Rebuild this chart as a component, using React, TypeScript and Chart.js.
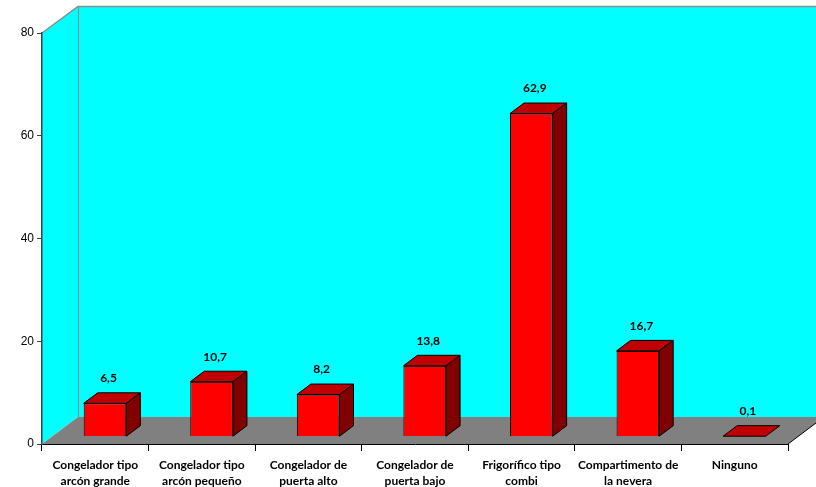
import { useEffect, useRef } from 'react';
import { Chart, registerables } from 'chart.js';

Chart.register(...registerables);

const categories: string[][] = [
  ['Congelador tipo', 'arcón grande'],
  ['Congelador tipo', 'arcón pequeño'],
  ['Congelador de', 'puerta alto'],
  ['Congelador de', 'puerta bajo'],
  ['Frigorífico tipo', 'combi'],
  ['Compartimento de', 'la nevera'],
  ['Ninguno'],
];
const percentages = [6.5, 10.7, 8.2, 13.8, 62.9, 16.7, 0.1];
const yTickValues = [0, 20, 40, 60, 80];

const WALL = '#00ffff';
const FLOOR = '#808080';
const FRONT = '#ff0000';
const TOP = '#c00000';
const SIDE = '#800000';

// Oblique projection of the box: full depth of walls/floor
const DEPTH_X = 36;
const DEPTH_Y = 27;
// Bars sit part-way into the floor and take part of its depth
const BAR_FRONT = 0.27;
const BAR_DEPTH = 0.39;

const fmt = (v: number) => v.toFixed(1).replace('.', ',');

const scene3d = {
  id: 'scene3d',
  beforeDraw(chart: any) {
    const { ctx, chartArea: a, scales } = chart;
    const yMax = yTickValues[yTickValues.length - 1];
    const yTop = Math.round(scales.y.getPixelForValue(yMax));
    const yBase = Math.round(scales.y.getPixelForValue(0));
    const x0 = Math.round(a.left);
    const x1 = Math.round(a.right);
    const W = chart.width;
    ctx.save();
    // back wall
    ctx.fillStyle = WALL;
    ctx.fillRect(x0 + DEPTH_X, yTop - DEPTH_Y, W - x0, yBase - yTop);
    // side wall
    ctx.beginPath();
    ctx.moveTo(x0, yTop);
    ctx.lineTo(x0 + DEPTH_X, yTop - DEPTH_Y);
    ctx.lineTo(x0 + DEPTH_X, yBase - DEPTH_Y);
    ctx.lineTo(x0, yBase);
    ctx.closePath();
    ctx.fill();
    // floor
    ctx.fillStyle = FLOOR;
    ctx.beginPath();
    ctx.moveTo(x0, yBase);
    ctx.lineTo(x1, yBase);
    ctx.lineTo(x1 + DEPTH_X, yBase - DEPTH_Y);
    ctx.lineTo(x0 + DEPTH_X, yBase - DEPTH_Y);
    ctx.closePath();
    ctx.fill();
    // wall edges
    ctx.lineWidth = 1.5;
    ctx.strokeStyle = '#8c8c8c';
    ctx.beginPath();
    ctx.moveTo(x0, yTop);
    ctx.lineTo(x0 + DEPTH_X, yTop - DEPTH_Y + 0.5);
    ctx.lineTo(W, yTop - DEPTH_Y + 0.5);
    ctx.stroke();
    ctx.lineWidth = 1;
    ctx.strokeStyle = '#a08080';
    ctx.beginPath();
    ctx.moveTo(x0 + DEPTH_X + 0.5, yTop - DEPTH_Y);
    ctx.lineTo(x0 + DEPTH_X + 0.5, yBase - DEPTH_Y);
    ctx.stroke();
    // floor right edge
    ctx.strokeStyle = '#000000';
    ctx.beginPath();
    ctx.moveTo(x1, yBase);
    ctx.lineTo(x1 + DEPTH_X, yBase - DEPTH_Y);
    ctx.stroke();
    ctx.restore();
  },
  beforeDatasetsDraw(chart: any) {
    chart.ctx.save();
    chart.ctx.translate(DEPTH_X * BAR_FRONT, -DEPTH_Y * BAR_FRONT);
  },
  afterDatasetsDraw(chart: any) {
    const { ctx } = chart;
    const dx = DEPTH_X * BAR_DEPTH;
    const dy = DEPTH_Y * BAR_DEPTH;
    const meta = chart.getDatasetMeta(0);
    ctx.lineWidth = 1;
    ctx.strokeStyle = '#000000';
    ctx.lineJoin = 'miter';
    meta.data.forEach((bar: any) => {
      const { x, y, base, width } = bar.getProps(['x', 'y', 'base', 'width'], true);
      const l = x - width / 2;
      const r = x + width / 2;
      // top face
      ctx.fillStyle = TOP;
      ctx.beginPath();
      ctx.moveTo(l, y);
      ctx.lineTo(r, y);
      ctx.lineTo(r + dx, y - dy);
      ctx.lineTo(l + dx, y - dy);
      ctx.closePath();
      ctx.fill();
      ctx.stroke();
      // side face
      if (base - y > 1) {
        ctx.fillStyle = SIDE;
        ctx.beginPath();
        ctx.moveTo(r, y);
        ctx.lineTo(r + dx, y - dy);
        ctx.lineTo(r + dx, base - dy);
        ctx.lineTo(r, base);
        ctx.closePath();
        ctx.fill();
        ctx.stroke();
      }
    });
    ctx.restore();

    // value labels
    ctx.save();
    ctx.font = 'bold 12px Lato, "Open Sans", sans-serif';
    ctx.fillStyle = '#000000';
    ctx.textAlign = 'center';
    ctx.textBaseline = 'middle';
    meta.data.forEach((bar: any, i: number) => {
      const { x, y } = bar.getProps(['x', 'y'], true);
      ctx.fillText(fmt(percentages[i]), x + DEPTH_X * BAR_FRONT + 3.5, y - DEPTH_Y * BAR_FRONT - 25);
    });
    ctx.restore();
  },
};

export default function App() {
  const ref = useRef<HTMLCanvasElement | null>(null);

  useEffect(() => {
    const canvas = ref.current;
    if (!canvas) return;
    const chart = new Chart(canvas, {
      type: 'bar',
      data: {
        labels: categories,
        datasets: [
          {
            data: percentages,
            backgroundColor: FRONT,
            borderColor: '#000000',
            borderWidth: 1,
            barPercentage: 0.4,
            categoryPercentage: 1,
          },
        ],
      },
      options: {
        responsive: false,
        animation: false,
        layout: { padding: { top: 33, right: 28, left: 0, bottom: 0 } },
        plugins: {
          legend: { display: false },
          tooltip: { enabled: false },
        },
        scales: {
          x: {
            grid: {
              offset: true,
              drawOnChartArea: false,
              drawTicks: true,
              tickLength: 7,
              color: '#000000',
            },
            border: { color: '#000000', width: 1 },
            ticks: {
              color: '#000000',
              autoSkip: false,
              maxRotation: 0,
              padding: 6,
              font: { family: 'Lato, "Open Sans", sans-serif', weight: 'bold', size: 12, lineHeight: 1.32 },
            },
            afterFit: (s: any) => {
              s.height = 43;
            },
          },
          y: {
            min: 0,
            max: 80,
            afterBuildTicks: (s: any) => {
              s.ticks = yTickValues.map((v) => ({ value: v }));
            },
            grid: {
              drawOnChartArea: false,
              drawTicks: true,
              tickLength: 5,
              color: '#404040',
            },
            border: { color: '#404040', width: 1.5 },
            ticks: {
              color: '#000000',
              padding: 3,
              font: { family: '"Liberation Sans", Arial, sans-serif', size: 12 },
            },
            afterFit: (s: any) => {
              s.width = 42;
            },
          },
        },
      },
      plugins: [scene3d],
    });
    return () => chart.destroy();
  }, []);

  return (
    <div style={{ position: 'fixed', left: 0, top: 0, width: 816, height: 487, background: '#ffffff' }}>
      <canvas ref={ref} width={816} height={487} style={{ display: 'block' }} />
    </div>
  );
}
